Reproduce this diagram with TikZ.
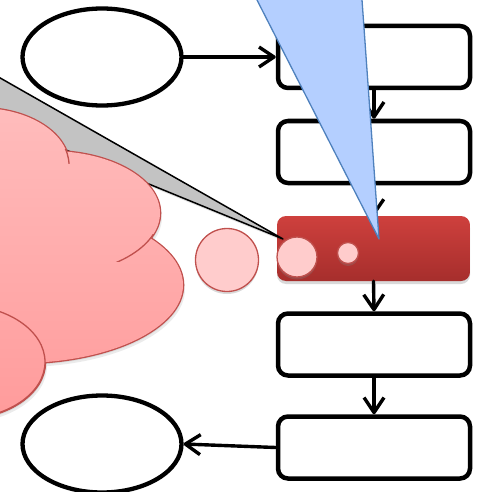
\documentclass[tikz,border=0pt]{standalone}
\usetikzlibrary{arrows.meta,shadows,shapes.geometric}
\definecolor{cloudline}{RGB}{192,80,77}
\definecolor{cloudtop}{RGB}{255,188,188}
\definecolor{cloudbot}{RGB}{255,155,155}
\definecolor{circfill}{RGB}{255,204,204}
\definecolor{redtop}{RGB}{206,64,61}
\definecolor{redbot}{RGB}{166,46,44}
\definecolor{bluefill}{RGB}{180,207,255}
\definecolor{blueline}{RGB}{79,129,189}
\definecolor{grayfill}{RGB}{195,195,195}
\begin{document}
\begin{tikzpicture}[x=1pt,y=-1pt,
  box/.style={draw=black, line width=4.5pt, rounded corners=10pt, minimum width=192pt, minimum height=62pt, inner sep=0pt},
  oval/.style={draw=black, ellipse, line width=4.3pt, minimum width=159pt, minimum height=97pt, inner sep=0pt},
  flow/.style={line width=3.4pt, line cap=round, -{Straight Barb[length=15pt,width=20pt,line join=round]}},
  bubble/.style={circle, draw=cloudline, fill=circfill, line width=1.3pt, inner sep=0pt,
     drop shadow={opacity=0.3, shadow xshift=0pt, shadow yshift=-2.5pt}},
  cloudunion/.style={insert path={
     (-20,165) ellipse [x radius=89pt, y radius=57pt]
     (50,213) ellipse [x radius=110pt, y radius=62pt]
     (20,285) ellipse [x radius=163pt, y radius=78pt]
     (-40,362) ellipse [x radius=85pt, y radius=57pt]}}]
\useasboundingbox (0,0) rectangle (476,492);
\clip (0,0) rectangle (476,492);

% flow boxes
\node[box] (b1) at (374,57) {};
\node[box] (b2) at (374,152) {};
\node[rounded corners=9pt, minimum width=193pt, minimum height=65pt, inner sep=0pt,
      top color=redtop, bottom color=redbot, draw=none,
      drop shadow={opacity=0.3, shadow xshift=0pt, shadow yshift=-3pt}] (rb) at (373.5,248.5) {};
\node[box] (b4) at (374,344.5) {};
\node[box] (b5) at (374,447.5) {};
\node[oval] (e1) at (102,57) {};
\node[oval] (e2) at (102,444) {};

\draw[flow] (e1.east) -- (b1.west);
\draw[flow] (b1.south) -- (b2.north);
\draw[flow] (b2.south) -- (rb.north);
\draw[flow] (rb.south) -- (b4.north);
\draw[flow] (b4.south) -- (b5.north);
\draw[flow] (b5.west) -- (e2.east);

% gray callout
\coordinate (gtip) at (283,239);
\coordinate (gup) at (-20,66.5);
\coordinate (glow) at (-20,114.8);
\fill[black, opacity=0.12] ([shift={(1.5,2.5)}]gup) -- ([shift={(1.5,2.5)}]gtip) -- ([shift={(1.5,2.5)}]glow) -- cycle;
\draw[fill=grayfill, draw=black, line width=1.5pt, line join=round] (gup) -- (gtip) -- (glow) -- cycle;

% cloud
\fill[black, opacity=0.08, shift={(1,2)}] [cloudunion];
\fill[black, opacity=0.08, shift={(2,4)}] [cloudunion];
\draw[cloudline, line width=2.6pt] [cloudunion];
\shade[top color=cloudtop, bottom color=cloudbot] [cloudunion];
\draw[cloudline, line width=1.3pt] (-40,362) ellipse [x radius=85pt, y radius=57pt];
\begin{scope}
  \clip (63,149) rectangle (73,163);
  \draw[cloudline, line width=1.3pt] (-20,165) ellipse [x radius=89pt, y radius=57pt];
\end{scope}
\begin{scope}
  \clip (113,234) rectangle (154,261);
  \draw[cloudline, line width=1.3pt] (50,213) ellipse [x radius=110pt, y radius=62pt];
\end{scope}

% bubbles
\node[bubble, minimum size=63pt] (c3) at (227,260) {};
\node[bubble, minimum size=40pt] (c1) at (297,257) {};
\node[bubble, minimum size=21pt] (c2) at (348,253) {};

% blue callout
\coordinate (btip) at (379,239);
\coordinate (bl) at (246.8,-20);
\coordinate (br) at (360.6,-20);
\draw[fill=bluefill, draw=blueline, line width=1.3pt, line join=round] (bl) -- (btip) -- (br) -- cycle;
\end{tikzpicture}
\end{document}
